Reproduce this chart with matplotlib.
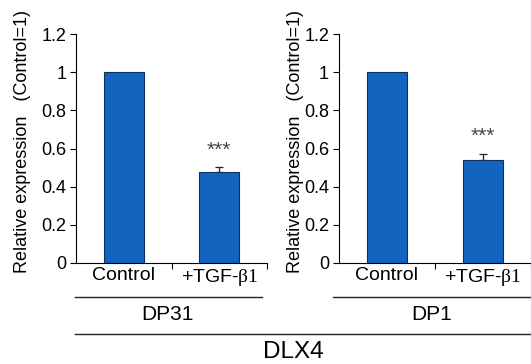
import numpy as np
import matplotlib
matplotlib.use('Agg')
import matplotlib.pyplot as plt
from matplotlib.lines import Line2D

plt.rcParams['font.family'] = ['Liberation Sans', 'DejaVu Sans']
plt.rcParams['mathtext.fontset'] = 'custom'
plt.rcParams['mathtext.rm'] = 'Liberation Serif'

# data
conditions = ['Control', r'+TGF-$\mathrm{\beta 1}$']
cell_lines = ['DP31', 'DP1']
values = {'DP31': [1.0, 0.475], 'DP1': [1.0, 0.54]}
errors = {'DP31': [0.0, 0.028], 'DP1': [0.0, 0.032]}
stars = {'DP31': [None, '***'], 'DP1': [None, '***']}
gene = 'DLX4'
yticks = [0, 0.2, 0.4, 0.6, 0.8, 1.0, 1.2]
ytick_labels = ['0', '0.2', '0.4', '0.6', '0.8', '1', '1.2']

bar_color = '#1264be'
edge_color = '#0b2f5e'

fig = plt.figure(figsize=(5.31, 3.64), dpi=100)

panel_rects = [(0.143, 0.2775, 0.360, 0.629),
               (0.638, 0.2775, 0.362, 0.629)]
label_x = [-0.235, -0.18]

for name, rect, lx in zip(cell_lines, panel_rects, label_x):
    ax = fig.add_axes(rect)
    idx = np.arange(len(conditions))
    vals = values[name]
    errs = errors[name]
    ax.bar(idx, vals, width=0.42, color=bar_color, edgecolor=edge_color,
           linewidth=0.8, zorder=2)
    for i, (v, e) in enumerate(zip(vals, errs)):
        if e > 0:
            ax.errorbar(i, v, yerr=[[0], [e]], fmt='none', ecolor='#222222',
                        elinewidth=0.9, capsize=3, capthick=0.9, zorder=1)
        if stars[name][i]:
            ax.text(i, v + e + 0.04, stars[name][i], ha='center', va='bottom',
                    fontsize=15, color='#444444')

    ax.set_xlim(-0.5, 1.5)
    ax.set_ylim(0, 1.2)
    ax.set_yticks(yticks)
    ax.set_yticklabels(ytick_labels, fontsize=13)
    ax.set_xticks([0.5, 1.5])
    ax.set_xticklabels([])
    ax.set_xticks(idx, minor=True)
    ax.set_xticklabels(conditions, minor=True, fontsize=14)
    ax.tick_params(axis='x', which='major', direction='out', length=4, width=0.8)
    ax.tick_params(axis='x', which='minor', length=0, pad=3)
    ax.tick_params(axis='y', direction='out', length=4, width=0.8, pad=3)
    for s in ['top', 'right']:
        ax.spines[s].set_visible(False)
    for s in ['left', 'bottom']:
        ax.spines[s].set_linewidth(0.8)
    ax.set_ylabel('Relative expression   (Control=1)', fontsize=13)
    ax.yaxis.set_label_coords(lx, 0.53)

# group lines and labels
fig.add_artist(Line2D([0.141, 0.493], [0.184, 0.184], color='#222222', lw=1.0))
fig.add_artist(Line2D([0.627, 1.0], [0.184, 0.184], color='#222222', lw=1.0))
fig.text(0.316, 0.135, cell_lines[0], ha='center', va='center', fontsize=15)
fig.text(0.812, 0.135, cell_lines[1], ha='center', va='center', fontsize=15)
fig.add_artist(Line2D([0.141, 1.0], [0.0824, 0.0824], color='#222222', lw=1.0))
fig.text(0.552, 0.033, gene, ha='center', va='center', fontsize=17.5)

fig.savefig('out.png', dpi=100)
